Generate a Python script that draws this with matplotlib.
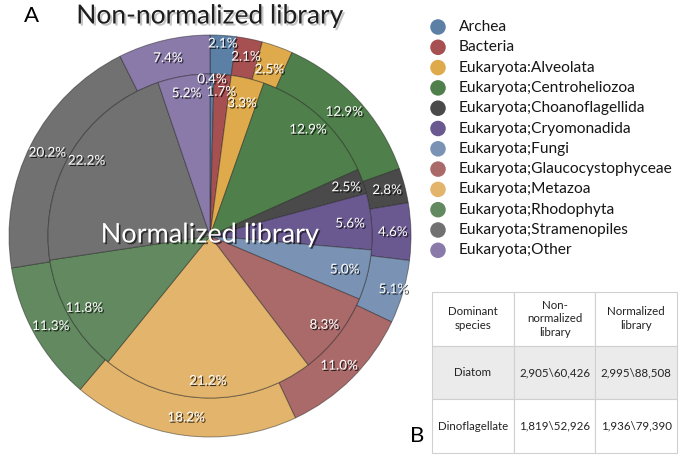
import numpy as np
import matplotlib
matplotlib.use("Agg")
import matplotlib.pyplot as plt
import matplotlib.patheffects as pe

plt.rcParams['font.family'] = ['Lato', 'DejaVu Sans']

# data
categories = ['Archea', 'Bacteria', 'Eukaryota:Alveolata', 'Eukaryota;Centroheliozoa',
              'Eukaryota;Choanoflagellida', 'Eukaryota;Cryomonadida', 'Eukaryota;Fungi',
              'Eukaryota;Glaucocystophyceae', 'Eukaryota;Metazoa', 'Eukaryota;Rhodophyta',
              'Eukaryota;Stramenopiles', 'Eukaryota;Other']
non_normalized = [2.1, 2.1, 2.5, 12.9, 2.8, 4.6, 5.1, 11.0, 18.2, 11.3, 20.2, 7.4]
normalized = [0.4, 1.7, 3.3, 12.9, 2.5, 5.6, 5.0, 8.3, 21.2, 11.8, 22.2, 5.2]
table_cols = ['Dominant\nspecies', 'Non-\nnormalized\nlibrary', 'Normalized\nlibrary']
table_rows = [['Diatom', '2,905\\60,426', '2,995\\88,508'],
              ['Dinoflagellate', '1,819\\52,926', '1,936\\79,390']]

colors = ['#5b7fa5', '#a65052', '#dfaa4c', '#4f7f4a', '#4a4a4a', '#6a5890',
          '#7a93b4', '#ab6a6a', '#e2b46c', '#62895f', '#717171', '#8a7aaa']

W, H = 685, 458
fig = plt.figure(figsize=(W / 100, H / 100), dpi=100)
ax = fig.add_axes([0, 0, 1, 1])

cx, cy = 210, 222
R_out, R_in = 201, 162
edge = (0.1, 0.1, 0.1, 0.45)

outer, _ = ax.pie(non_normalized, colors=colors, startangle=90, counterclock=False,
                  radius=R_out, center=(cx, cy),
                  wedgeprops=dict(width=R_out - R_in, edgecolor=edge, linewidth=0.7))
inner, _ = ax.pie(normalized, colors=colors, startangle=90, counterclock=False,
                  radius=R_in, center=(cx, cy),
                  wedgeprops=dict(edgecolor=edge, linewidth=0.7))
ax.set_xlim(0, W)
ax.set_ylim(0, H)
ax.set_aspect('equal')
ax.axis('off')

shadow = [pe.withSimplePatchShadow(offset=(1, -1), shadow_rgbFace='black', alpha=0.75)]

# label radii (as fraction of outer radius)
out_r = [0.91] * 12
out_r[0], out_r[2], out_r[6] = 0.96, 0.88, 0.95
in_r = [0.72] * 12
in_r[0], in_r[2], in_r[5], in_r[6] = 0.78, 0.68, 0.70, 0.69

for wedges, vals, rr in [(outer, non_normalized, out_r), (inner, normalized, in_r)]:
    for w, v, r in zip(wedges, vals, rr):
        a = np.deg2rad((w.theta1 + w.theta2) / 2)
        ax.text(cx + r * R_out * np.cos(a), cy + r * R_out * np.sin(a), '%.1f%%' % v,
                ha='center', va='center', color='white', fontsize=9.7,
                path_effects=shadow)

ax.text(cx, cy + 1, 'Normalized library', ha='center', va='center', color='white',
        fontsize=19.5, path_effects=[pe.withSimplePatchShadow(offset=(1.2, -1.2),
                                                            shadow_rgbFace='black', alpha=0.6)])
ax.text(cx, H - 16, 'Non-normalized library', ha='center', va='center', color='#1e1e1e',
        fontsize=19, path_effects=[pe.withSimplePatchShadow(offset=(1.5, -1.5),
                                                          shadow_rgbFace='gray', alpha=0.45)])
ax.text(32, H - 16, 'A', ha='center', va='center', fontsize=16, color='black')
ax.text(417, H - 436, 'B', ha='center', va='center', fontsize=16, color='black')

# legend
for i, (lab, c) in enumerate(zip(categories, colors)):
    y = H - 27 - i * 20.3
    ax.scatter([438], [y], s=125, color=c, edgecolors='none')
    ax.text(459, y, lab, ha='left', va='center', fontsize=11.2, color='#161616')

# table
tb = ax.table(cellText=table_rows, colLabels=table_cols, cellLoc='center',
              bbox=[432 / W, 5 / H, 245 / W, 161 / H])
tb.auto_set_font_size(False)
for (r, c), cell in tb.get_celld().items():
    cell.set_edgecolor('#d0d0d0')
    cell.set_linewidth(0.8)
    t = cell.get_text()
    t.set_fontsize(8.3)
    t.set_color('#222222')
    t.set_linespacing(1.3)
    cell.set_facecolor('#ebebeb' if r == 1 else 'white')

fig.savefig('out.png', dpi=100)
